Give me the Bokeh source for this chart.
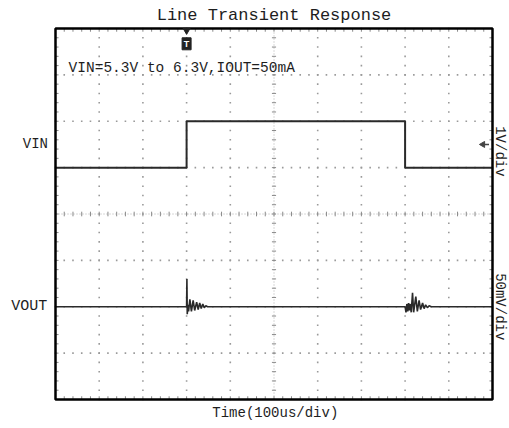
import numpy as np
from bokeh.plotting import figure
from bokeh.models import Range1d, Label
from bokeh.embed import file_html
from bokeh.resources import INLINE

# ---- scope settings ----
TIME_PER_DIV = 100.0      # us/div
VIN_PER_DIV = 1.0         # V/div
VOUT_PER_DIV = 50.0       # mV/div
VIN_OFFSET_DIV = 5.0      # screen division where VIN = 5.3 V
VIN_BASE = 5.3
VOUT_OFFSET_DIV = 2.0     # screen division of the VOUT ac-coupled zero

# ---- input step (us, V) ----
vin_t = [0, 300, 300, 800, 800, 1000]
vin_v = [5.3, 5.3, 6.3, 6.3, 5.3, 5.3]

# ---- output ripple around each edge (us after the edge, mV) ----
ring_rise_t = [-2, 0, 0.7, 1.5, 3, 4.5, 7.5, 11, 15, 18.5, 23, 26.5, 30, 33.5,
               37, 40.5, 44, 48]
ring_rise_mv = [0, 0, 30, -8, 2, -5, 8, -5, 7, -4, 5, -3, 4, -2,
                3, -1, 1, 0]
ring_fall_t = [-2, 0, 2, 4, 6, 8, 10, 12, 14, 17, 19.5, 24.5, 28, 32, 35.5,
               40, 43.5, 47, 51, 55, 60]
ring_fall_mv = [0, 0, -6, 3, -5, 4, -4, 3, -6, 15, -6, 11, -5, 7, -3,
                4, -2, 2, -1, 1, 0]

vout_t = [0] + [300 + t for t in ring_rise_t] + [800 + t for t in ring_fall_t] + [1000]
vout_mv = [0] + ring_rise_mv + ring_fall_mv + [0]

# ---- convert to screen divisions ----
x_vin = np.array(vin_t) / TIME_PER_DIV
y_vin = VIN_OFFSET_DIV + (np.array(vin_v) - VIN_BASE) / VIN_PER_DIV
x_vout = np.array(vout_t) / TIME_PER_DIV
y_vout = VOUT_OFFSET_DIV + np.array(vout_mv) / VOUT_PER_DIV

NX, NY = 10, 8
FONT = "Liberation Mono"
INK = "#1e1e1e"

# canvas in division units: the graticule spans 0..10 x 0..8 and the
# surrounding margin holds the title and channel labels
W, H = 509, 428
GL, GR, GT, GB = 55, 492, 28, 399          # graticule edges in pixels
px_x = (GR - GL) / NX
px_y = (GB - GT) / NY
x0, x1 = -GL / px_x, (W - GL) / px_x
y0, y1 = -(H - GB) / px_y, GB / px_y

p = figure(width=W, height=H, title=None, output_backend="svg",
           toolbar_location=None, x_range=Range1d(x0, x1), y_range=Range1d(y0, y1),
           min_border=0)
p.xaxis.visible = False
p.yaxis.visible = False
p.grid.visible = False
p.outline_line_color = None
p.background_fill_color = "white"
p.border_fill_color = "white"

# graticule dots every 0.2 division along each division line
sub = np.round(np.arange(0, NX + 0.001, 0.2), 3)
subv = np.round(np.arange(0, NY + 0.001, 0.2), 3)
gx, gy = [], []
for xv in range(1, NX):
    if xv == NX // 2:
        continue
    gx += [xv] * len(subv)
    gy += list(subv)
for yv in range(1, NY):
    if yv == NY // 2:
        continue
    gx += list(sub)
    gy += [yv] * len(sub)
p.scatter(gx, gy, size=1.6, marker="square", color="#9a9a9a", line_color=None)

# centre cross-hair with minor ticks
cx, cy = NX / 2, NY / 2
p.segment(x0=[cx], y0=[0], x1=[cx], y1=[NY], line_color="#b0b0b0", line_width=1,
          line_dash="1 2")
p.segment(x0=[0], y0=[cy], x1=[NX], y1=[cy], line_color="#b0b0b0", line_width=1,
          line_dash="1 2")
tk = 0.05
p.segment(x0=sub, y0=cy - tk, x1=sub, y1=cy + tk, line_color="#8a8a8a", line_width=1)
p.segment(x0=cx - tk * 0.95, y0=subv, x1=cx + tk * 0.95, y1=subv,
          line_color="#8a8a8a", line_width=1)
# edge ticks
p.segment(x0=sub, y0=0, x1=sub, y1=0.07, line_color="#8a8a8a", line_width=1)
p.segment(x0=sub, y0=NY, x1=sub, y1=NY - 0.07, line_color="#8a8a8a", line_width=1)
p.segment(x0=0, y0=subv, x1=0.07, y1=subv, line_color="#8a8a8a", line_width=1)
p.segment(x0=NX, y0=subv, x1=NX - 0.07, y1=subv, line_color="#8a8a8a", line_width=1)

# traces
p.line(x_vin, y_vin, line_color="#2a2a2a", line_width=2)
p.line(x_vout, y_vout, line_color="#2a2a2a", line_width=1.6)

# graticule border
p.quad(left=[0], right=[NX], bottom=[0], top=[NY], fill_color=None,
       line_color="black", line_width=2.5)

# trigger marker
trig_x = vin_t[1] / TIME_PER_DIV
p.scatter([trig_x], [NY - 0.04], marker="inverted_triangle", size=7, color="#222")
p.rect([trig_x], [NY - 0.33], width=9, height=12, width_units="screen",
       height_units="screen", fill_color="#222", line_color="#222")
p.text([trig_x], [NY - 0.33], text=["T"], text_color="white", text_font_size="9px",
       text_align="center", text_baseline="middle", text_font_style="bold")

# channel reference arrow
ref_y = VIN_OFFSET_DIV + 0.5
p.scatter([NX - 0.22], [ref_y], marker="triangle", angle=np.pi / 2,
          size=6, color="#444")
p.segment(x0=[NX - 0.22], y0=[ref_y], x1=[NX - 0.08], y1=[ref_y],
          line_color="#444", line_width=1.5)

def label(x, y, txt, size, align="center", angle=0.0):
    p.add_layout(Label(x=x, y=y, text=txt, text_font=FONT, text_font_size=size,
                       text_color=INK, text_align=align, text_baseline="middle",
                       angle=angle))

label(5.0, 8.29, "Line Transient Response", "17px")
label(0.3, 7.14, "VIN=5.3V to 6.3V,IOUT=50mA", "14.5px", align="left")
label(-0.46, 5.52, "VIN", "14px")
label(-0.6, 2.0, "VOUT", "15px")
label(10.18, 5.35, "1V/div", "14px", angle=-np.pi / 2)
label(10.18, 2.0, "50mV/div", "14px", angle=-np.pi / 2)
label(5.03, -0.29, "Time(100us/div)", "14px")

open("out.html", "w").write(file_html(p, INLINE))
